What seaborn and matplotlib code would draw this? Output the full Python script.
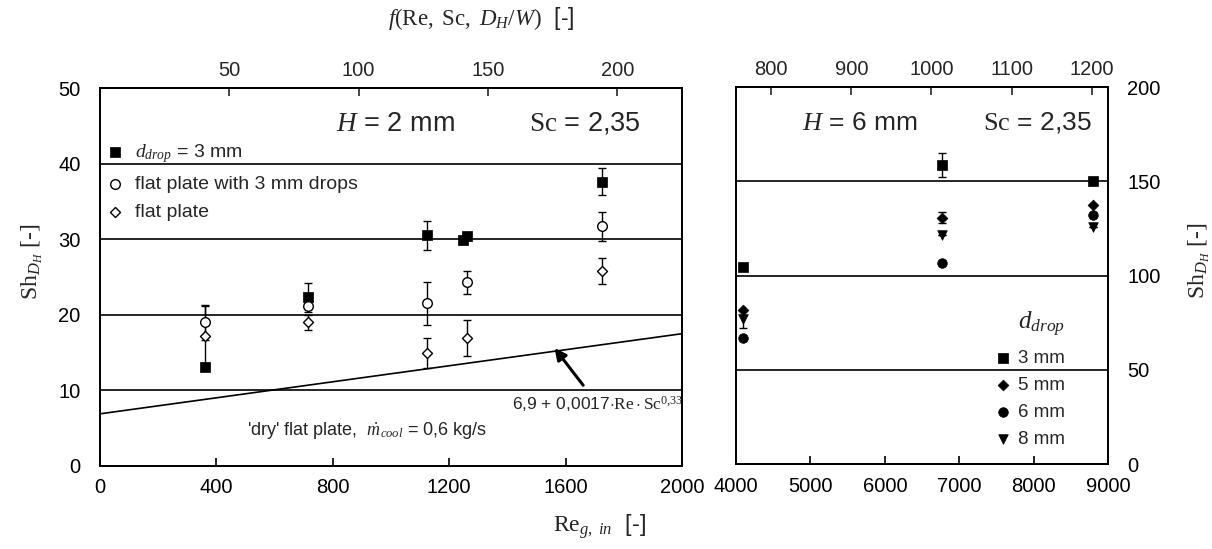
import matplotlib
matplotlib.use("Agg")
import matplotlib.pyplot as plt
import seaborn as sns

# ---------------- data ----------------
# H = 2 mm panel
re2_sq = [362, 715, 1124, 1248, 1262, 1725]
sh2_sq = [13.1, 22.3, 30.5, 29.9, 30.4, 37.6]
err2_sq = [0.0, 1.9, 1.9, 0.0, 0.0, 1.8]

re2_ci = [362, 715, 1124, 1261, 1725]
sh2_ci = [19.0, 21.1, 21.5, 24.3, 31.7]
err2_ci = [2.3, 0.0, 2.9, 1.5, 1.9]

re2_di = [362, 715, 1124, 1261, 1725]
sh2_di = [17.2, 19.0, 14.9, 16.9, 25.8]
err2_di = [4.0, 1.0, 2.0, 2.4, 1.7]

dry_re = [0, 2000]
dry_sh = [6.9, 17.5]

# H = 6 mm panel
re6 = [4094, 6770, 8800]
sh6_3mm = [104.5, 158.7, 150.3]
err6_3mm = [0.0, 6.5, 0.0]
sh6_5mm = [81.5, 130.7, 137.6]
err6_5mm = [0.0, 3.0, 0.0]
sh6_6mm = [66.7, 106.9, 132.3]
sh6_8mm = [76.7, 121.7, 126.0]
err6_8mm = [4.5, 0.0, 0.0]

left_xticks = [0, 400, 800, 1200, 1600, 2000]
left_yticks = [0, 10, 20, 30, 40, 50]
left_top_ticks = [50, 100, 150, 200]
right_xticks = [4000, 5000, 6000, 7000, 8000, 9000]
right_yticks = [0, 50, 100, 150, 200]
right_top_ticks = [800, 900, 1000, 1100, 1200]

# ---------------- style ----------------
sns.set_style("ticks")
plt.rcParams["font.family"] = ["Liberation Sans", "DejaVu Sans"]
plt.rcParams["mathtext.fontset"] = "custom"
plt.rcParams["mathtext.rm"] = "Liberation Serif"
plt.rcParams["mathtext.it"] = "Liberation Serif:italic"
plt.rcParams["mathtext.sf"] = "Liberation Sans"
plt.rcParams["axes.linewidth"] = 1.3
plt.rcParams["axes.edgecolor"] = "black"

fig = plt.figure(figsize=(12.12, 5.49), dpi=100)
axL = fig.add_axes([0.0825, 0.1512, 0.4802, 0.6885])
axR = fig.add_axes([0.6073, 0.1548, 0.3069, 0.6867])

TICK_FS = 14.5
ms = 48
eb = dict(fmt="none", ecolor="black", elinewidth=1.0, capsize=2.6, capthick=1.0, zorder=2)

# ---------- left panel ----------
ax = axL
for yv in [10, 20, 30, 40]:
    ax.axhline(yv, color="black", lw=1.2, zorder=1)
sns.lineplot(x=dry_re, y=dry_sh, ax=ax, color="black", lw=1.2, zorder=1)

ax.errorbar(re2_sq, sh2_sq, yerr=err2_sq, **eb)
ax.errorbar(re2_ci, sh2_ci, yerr=err2_ci, **eb)
ax.errorbar(re2_di, sh2_di, yerr=err2_di, **eb)

sns.scatterplot(x=re2_sq, y=sh2_sq, ax=ax, marker="s", s=ms, color="black", edgecolor="black", linewidth=0.5, zorder=3,
                label=r"$d_{drop}$ = 3 mm")
sns.scatterplot(x=re2_ci, y=sh2_ci, ax=ax, marker="o", s=ms, facecolor="white", edgecolor="black", linewidth=1.0, zorder=3,
                label="flat plate with 3 mm drops")
sns.scatterplot(x=re2_di, y=sh2_di, ax=ax, marker="D", s=26, facecolor="white", edgecolor="black", linewidth=1.0, zorder=3,
                label="flat plate")

ax.set_xlim(0, 2000)
ax.set_ylim(0, 50)
ax.set_xticks(left_xticks)
ax.set_yticks(left_yticks)
ax.tick_params(axis="both", direction="in", labelsize=TICK_FS, colors="black", length=6, width=1.2, pad=9)
ax.tick_params(axis="y", length=0, pad=14)
ax.set_xlabel("")
ax.set_ylabel(r"$\mathrm{Sh}_{D_H}$ [-]", fontsize=17, family="Liberation Serif")
ax.yaxis.set_label_coords(-0.095, 0.54)

ax.legend(loc="upper left", bbox_to_anchor=(0.012, 0.857), frameon=False, fontsize=14,
          handlelength=0.8, handletextpad=0.62, labelspacing=0.53, borderaxespad=0.0, borderpad=0.0)

ax.text(1014, 45.3, r"$H$ = 2 mm", fontsize=19.5, ha="center", va="center")
ax.text(1667, 45.3, r"$\mathrm{Sc}$ = 2,35", fontsize=19.5, ha="center", va="center")
ax.text(918, 4.6, r"'dry' flat plate,  $\dot{m}_{cool}$ = 0,6 kg/s", fontsize=13, ha="center", va="center")
ax.annotate(r"6,9 + 0,0017$\cdot\mathrm{Re}\cdot\mathrm{Sc}^{0{,}33}$", xy=(1562, 15.6), xytext=(1710, 8.2),
            fontsize=12.5, ha="center", va="center",
            arrowprops=dict(arrowstyle="-|>", color="black", lw=2.2, mutation_scale=17, shrinkA=5, shrinkB=0))

axLt = ax.twiny()
axLt.set_xlim(0, 225)
axLt.set_xticks(left_top_ticks)
axLt.tick_params(axis="x", direction="in", labelsize=TICK_FS, length=6, width=1.2, pad=6)

# ---------- right panel ----------
ax = axR
for yv in [50, 100, 150]:
    ax.axhline(yv, color="black", lw=1.2, zorder=1)

ax.errorbar(re6, sh6_3mm, yerr=err6_3mm, **eb)
ax.errorbar(re6, sh6_5mm, yerr=err6_5mm, **eb)
ax.errorbar(re6, sh6_8mm, yerr=err6_8mm, **eb)

sns.scatterplot(x=re6, y=sh6_3mm, ax=ax, marker="s", s=ms, color="black", edgecolor="black", linewidth=0.5, zorder=3, label="3 mm")
sns.scatterplot(x=re6, y=sh6_5mm, ax=ax, marker="D", s=30, color="black", edgecolor="black", linewidth=0.5, zorder=3, label="5 mm")
sns.scatterplot(x=re6, y=sh6_6mm, ax=ax, marker="o", s=ms, color="black", edgecolor="black", linewidth=0.5, zorder=3, label="6 mm")
sns.scatterplot(x=re6, y=sh6_8mm, ax=ax, marker="v", s=ms, color="black", edgecolor="black", linewidth=0.5, zorder=3, label="8 mm")

ax.set_xlim(4000, 9000)
ax.set_ylim(0, 200)
ax.set_xticks(right_xticks)
ax.set_yticks(right_yticks)
ax.yaxis.tick_right()
ax.yaxis.set_label_position("right")
ax.tick_params(axis="both", direction="in", labelsize=TICK_FS, colors="black", length=6, width=1.2, pad=9)
ax.tick_params(axis="y", length=0, pad=14)
ax.set_xlabel("")
ax.set_ylabel(r"$\mathrm{Sh}_{D_H}$ [-]", fontsize=17, family="Liberation Serif", rotation=90)
ax.yaxis.set_label_coords(1.21, 0.54)

ax.legend(loc="upper left", bbox_to_anchor=(0.702, 0.304), frameon=False, fontsize=13.5,
          handlelength=0.6, handletextpad=0.5, labelspacing=0.53, borderaxespad=0.0, borderpad=0.0)
ax.text(7790, 74, r"$d_{drop}$", fontsize=18, ha="left", va="center")

ax.text(5667, 181, r"$H$ = 6 mm", fontsize=19, ha="center", va="center")
ax.text(8045, 181, r"$\mathrm{Sc}$ = 2,35", fontsize=19, ha="center", va="center")

axRt = ax.twiny()
axRt.set_xlim(756.4, 1220)
axRt.set_xticks(right_top_ticks)
axRt.tick_params(axis="x", direction="in", labelsize=TICK_FS, length=6, width=1.2, pad=6)

# ---------- shared axis titles ----------
fig.text(0.397, 0.966, r"$f(\mathrm{Re},\ \mathrm{Sc},\ D_H/W)$  [-]", fontsize=16.5, ha="center", va="center")
fig.text(0.495, 0.04, r"$\mathrm{Re}_{g,\ in}$  [-]", fontsize=17, ha="center", va="center")

fig.savefig("out.png", dpi=100)
